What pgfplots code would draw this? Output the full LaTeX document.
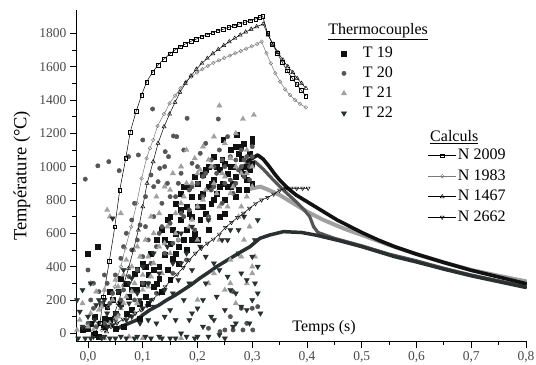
\documentclass[border=0pt]{standalone}
\usepackage{fontspec}
\setmainfont{Liberation Serif}
\usepackage{pgfplots}
\pgfplotsset{compat=1.18}
\definecolor{cTa}{HTML}{111111}
\definecolor{cTb}{HTML}{555555}
\definecolor{cTc}{HTML}{A0A0A0}
\definecolor{cTd}{HTML}{283030}
\definecolor{ctick}{HTML}{4A4A4A}
\definecolor{cgr}{HTML}{7A7A7A}
\begin{document}
\begin{tikzpicture}
\path[use as bounding box] (-76bp,-23.3bp) rectangle (460bp,341.7bp);
\begin{axis}[
  at={(0,0)}, anchor=south west,
  scale only axis, width=451bp, height=331.7bp,
  xmin=-0.0219, xmax=0.8018, ymin=-50.4, ymax=1940,
  axis x line*=bottom, axis y line*=left,
  axis line style={line width=0.9bp, black, -},
  tick align=outside,
  major tick length=6bp, minor tick length=3.5bp,
  tick style={line width=0.8bp, black},
  /pgf/number format/assume math mode=true,
  xtick={0,0.1,0.2,0.3,0.4,0.5,0.6,0.7,0.8},
  xticklabels={{0,0},{0,1},{0,2},{0,3},{0,4},{0,5},{0,6},{0,7},{0,8}},
  ytick={0,200,400,600,800,1000,1200,1400,1600,1800},
  yticklabels={0,200,400,600,800,1000,1200,1400,1600,1800},
  minor x tick num=1, minor y tick num=1,
  ticklabel style={font=\rmfamily\fontsize{13.5bp}{16bp}\selectfont, text=ctick},
  ylabel={Température (°C)},
  every axis y label/.style={at={(axis description cs:-0.1197,0.5)}, rotate=90, anchor=center, font=\rmfamily\fontsize{18.5bp}{22bp}\selectfont},
  clip=true,
  legend image code/.code={\path[draw=none,fill=none] (-8bp,-3bp) (17bp,3bp); \draw[mark repeat=2,mark phase=2,#1] plot coordinates {(-8bp,0bp) (0bp,0bp) (8bp,0bp)};},
  legend style={draw=none, fill=none, font=\rmfamily\fontsize{16bp}{19bp}\selectfont,
    at={(0.576,0.897)}, anchor=north west, inner sep=0pt, row sep=2bp,
    nodes={text height=11bp, text depth=3bp, inner sep=2bp}},
  legend cell align=left,
]
% ---------- Thermocouples scatter ----------
\addplot[only marks, mark=square*, mark size=2.4bp, color=cTa, mark options={draw=none, fill=cTa}] coordinates {
(-0.01,20) (0.0,480) (0.005,60) (0.012,100) (0.018,520) (0.02,-20) (0.028,40) (0.035,160) (0.04,80) (0.045,200)
(0.05,120) (0.055,250) (0.06,180) (0.065,40) (0.07,300) (0.075,220) (0.08,140) (0.085,360) (0.09,260) (0.095,180)
(0.1,420) (0.1,300) (0.105,220) (0.11,350) (0.115,480) (0.12,280) (0.12,380) (0.125,560) (0.13,400) (0.13,330)
(0.135,620) (0.135,250) (0.14,470) (0.145,380) (0.15,540) (0.15,700) (0.15,320) (0.155,450) (0.16,600) (0.16,780)
(0.165,520) (0.165,420) (0.17,680) (0.17,840) (0.175,560) (0.18,760) (0.18,620) (0.18,500) (0.185,880) (0.19,700)
(0.19,820) (0.195,600) (0.2,900) (0.2,760) (0.2,560) (0.205,680) (0.21,840) (0.21,950) (0.215,720) (0.22,880)
(0.22,1000) (0.22,620) (0.225,780) (0.23,920) (0.23,1060) (0.235,840) (0.24,980) (0.24,700) (0.245,900) (0.247,1160)
(0.25,1020) (0.25,800) (0.25,720) (0.255,960) (0.26,1100) (0.26,880) (0.265,1000) (0.27,940) (0.27,1120) (0.27,820)
(0.272,1190) (0.275,860) (0.28,1050) (0.28,980) (0.285,1140) (0.29,1000) (0.29,920) (0.29,860) (0.295,1080) (0.3,1150)
(0.3,1020) (0.3,1170)
(0.0,30) (0.01,-10) (0.025,180) (0.03,90) (0.04,250) (0.05,30) (0.06,330) (0.07,120) (0.08,260) (0.09,380)
(0.095,90) (0.105,400) (0.11,180) (0.125,300) (0.14,560) (0.145,680) (0.155,620) (0.16,480) (0.17,740) (0.175,880)
(0.185,720) (0.19,560) (0.195,940) (0.205,820) (0.21,760) (0.215,980) (0.225,900) (0.23,800) (0.235,1000) (0.24,880)
(0.245,1040) (0.255,880) (0.26,1000) (0.265,900) (0.275,1080) (0.28,1120) (0.285,960) (0.295,980) (0.3,900)
};
\addlegendentry{T 19}
\addplot[only marks, mark=*, mark size=2.2bp, color=cTb, mark options={draw=none, fill=cTb}] coordinates {
(-0.005,925) (0.018,1005) (0.038,1030) (0.0,380) (0.005,200) (0.01,150) (0.02,250) (0.03,60) (0.035,300) (0.04,180)
(0.05,350) (0.055,110) (0.057,976) (0.06,450) (0.065,260) (0.07,600) (0.074,1060) (0.08,500) (0.085,780) (0.09,380)
(0.092,1070) (0.095,650) (0.1,1160) (0.1,300) (0.105,820) (0.11,560) (0.115,950) (0.115,420) (0.118,1346) (0.12,700)
(0.125,240) (0.128,910) (0.131,990) (0.13,600) (0.135,780) (0.14,480) (0.141,1090) (0.145,900) (0.147,1060) (0.15,660)
(0.155,360) (0.156,1184) (0.16,820) (0.162,1180) (0.165,560) (0.17,960) (0.175,700) (0.18,440) (0.181,1290) (0.185,860)
(0.19,1020) (0.195,620) (0.2,900) (0.2,760) (0.205,1080) (0.21,820) (0.215,960) (0.22,700) (0.225,1040) (0.23,880)
(0.235,960) (0.238,1286) (0.24,1100) (0.245,780) (0.25,1000) (0.255,1180) (0.26,920) (0.265,840) (0.27,1040) (0.275,980)
(0.28,1100) (0.285,940) (0.29,1060) (0.295,1000) (0.3,1120) (0.22,30) (0.241,10) (0.25,20) (0.26,100) (0.265,20)
(0.283,20) (0.29,60) (0.301,20) (0.3,150) (0.31,160) (0.28,150) (0.265,250)
(0.0,60) (0.01,300) (0.015,40) (0.025,180) (0.03,350) (0.045,240) (0.05,80) (0.06,200) (0.065,520) (0.075,340)
(0.08,680) (0.085,200) (0.09,560) (0.1,460) (0.105,640) (0.11,300) (0.12,880) (0.125,520) (0.135,640) (0.14,1000)
(0.15,820) (0.155,540) (0.165,900) (0.17,720) (0.175,1100) (0.185,740) (0.19,880) (0.2,1000) (0.21,940) (0.215,1140)
(0.225,860) (0.23,1000) (0.245,1040) (0.25,900) (0.26,1060) (0.27,900) (0.28,1000) (0.285,1040) (0.295,920) (0.3,1060)
};
\addlegendentry{T 20}
\addplot[only marks, mark=triangle*, mark size=3bp, color=cTc, mark options={draw=none, fill=cTc}] coordinates {
(-0.02,20) (-0.01,180) (0.0,40) (0.005,120) (0.01,20) (0.015,250) (0.02,60) (0.025,160) (0.03,-30) (0.035,740)
(0.04,700) (0.045,200) (0.05,90) (0.055,280) (0.06,150) (0.06,720) (0.065,350) (0.07,220) (0.075,-20) (0.08,400)
(0.085,300) (0.09,180) (0.095,460) (0.1,350) (0.1,-30) (0.105,560) (0.11,280) (0.115,700) (0.12,420) (0.125,820)
(0.13,520) (0.135,360) (0.14,880) (0.145,640) (0.15,480) (0.155,960) (0.16,720) (0.165,560) (0.17,1000) (0.175,820)
(0.18,1100) (0.185,640) (0.19,900) (0.195,1050) (0.2,760) (0.2,560) (0.205,980) (0.21,1120) (0.215,860) (0.22,680)
(0.225,1000) (0.23,1180) (0.235,840) (0.24,1366) (0.24,560) (0.245,960) (0.25,1140) (0.255,760) (0.26,1050) (0.26,440)
(0.265,880) (0.27,1200) (0.275,700) (0.28,960) (0.283,1286) (0.285,560) (0.29,820) (0.29,1100) (0.295,640) (0.3,1000)
(0.303,1310) (0.3,400) (0.305,460) (0.17,-30) (0.2,200) (0.22,300) (0.25,260) (0.27,180) (0.29,300) (0.3,360)
(-0.015,80) (0.005,300) (0.02,140) (0.03,260) (0.04,60) (0.05,320) (0.055,100) (0.065,180) (0.07,440) (0.08,250)
(0.085,120) (0.09,520) (0.1,260) (0.11,460) (0.115,340) (0.12,600) (0.13,720) (0.14,540) (0.15,860) (0.16,600)
(0.17,780) (0.18,900) (0.19,680) (0.2,960) (0.21,800) (0.22,1040) (0.23,900) (0.24,760) (0.25,940) (0.26,840)
(0.27,1000) (0.28,760) (0.29,960) (0.3,880) (0.23,360) (0.26,300) (0.28,460)
};
\addlegendentry{T 21}
\addplot[only marks, mark=triangle*, mark size=3bp, color=cTd, mark options={draw=none, fill=cTd, rotate=180}] coordinates {
(-0.02,200) (-0.015,130) (-0.01,40) (-0.005,-30) (0.0,100) (0.005,300) (0.01,-20) (0.015,170) (0.02,60) (0.025,-30)
(0.03,200) (0.035,40) (0.04,-30) (0.045,690) (0.05,120) (0.055,250) (0.06,-20) (0.065,380) (0.07,80) (0.075,180)
(0.08,330) (0.085,-30) (0.09,240) (0.095,60) (0.1,400) (0.1,150) (0.105,-20) (0.11,300) (0.115,200) (0.12,480)
(0.125,60) (0.13,360) (0.135,-30) (0.14,260) (0.145,520) (0.15,140) (0.155,420) (0.16,-30) (0.165,320) (0.17,600)
(0.17,0) (0.175,200) (0.18,480) (0.185,80) (0.19,380) (0.19,640) (0.195,-30) (0.2,150) (0.205,520) (0.21,40)
(0.215,300) (0.22,680) (0.225,100) (0.23,420) (0.235,220) (0.24,-10) (0.245,560) (0.25,140) (0.255,340) (0.26,620)
(0.265,40) (0.27,240) (0.275,480) (0.28,160) (0.285,700) (0.29,320) (0.295,60) (0.3,200) (0.305,560) (0.31,400)
(0.31,680) (0.315,120)
(-0.018,-30) (-0.01,260) (0.005,-30) (0.012,80) (0.02,200) (0.03,-20) (0.035,120) (0.045,50) (0.05,-30) (0.06,160)
(0.07,-30) (0.075,300) (0.08,100) (0.09,-20) (0.095,200) (0.11,80) (0.115,-30) (0.12,160) (0.13,-20) (0.14,100)
(0.15,-30) (0.155,240) (0.16,80) (0.17,420) (0.18,-20) (0.185,300) (0.19,120) (0.2,-20) (0.21,200) (0.215,460)
(0.22,-20) (0.23,80) (0.24,380) (0.25,-30) (0.255,560) (0.26,260) (0.27,60) (0.275,620) (0.28,360) (0.29,140)
(0.3,460) (0.305,300) (0.31,240)
};
\addlegendentry{T 22}
% ---------- Thermocouples dense records ----------
\addplot[forget plot, color=cTc, line width=4bp, line join=round, line cap=round] coordinates {
(0.29,860) (0.3,870) (0.315,880) (0.33,860) (0.35,830) (0.375,780) (0.4,730) (0.43,680) (0.47,625) (0.5,590)
(0.55,530) (0.6,475) (0.65,425) (0.7,380) (0.75,345) (0.8,312)
};
\addplot[forget plot, color=cTb, line width=3.2bp, line join=round, line cap=round] coordinates {
(0.28,1000) (0.295,1020) (0.305,1030) (0.32,985) (0.34,915) (0.36,850) (0.38,790) (0.395,740) (0.405,700) (0.412,640)
(0.42,605) (0.45,570) (0.5,525) (0.55,475) (0.6,435) (0.65,390) (0.7,350) (0.75,315) (0.8,282)
};
\addplot[forget plot, color=cTd, line width=3.5bp, line join=round, line cap=round] coordinates {
(0.05,20) (0.06,40) (0.075,60) (0.089,80) (0.1,110) (0.113,140) (0.13,170) (0.144,200) (0.16,230) (0.174,260)
(0.19,295) (0.204,330) (0.22,365) (0.235,400) (0.25,430) (0.265,460) (0.28,490) (0.296,520) (0.314,570) (0.332,590)
(0.357,610) (0.39,605) (0.418,588) (0.46,555) (0.5,520) (0.53,490) (0.56,460) (0.6,428) (0.65,385) (0.7,345)
(0.75,310) (0.8,275)
};
\addplot[forget plot, color=cTa, line width=3.6bp, line join=round, line cap=round] coordinates {
(0.29,1030) (0.3,1050) (0.31,1070) (0.32,1045) (0.33,1005) (0.34,960) (0.35,920) (0.365,870) (0.38,830) (0.395,800)
(0.41,770) (0.425,740) (0.44,710) (0.455,680) (0.47,655) (0.5,605) (0.53,560) (0.56,520) (0.6,475) (0.65,425)
(0.7,378) (0.75,338) (0.8,298)
};
% ---------- Calculs ----------
\addplot[forget plot, black, line width=0.5bp, mark=square, mark size=1.8bp, mark options={fill=white, draw=black, line width=0.45bp}] coordinates {
(0.013,0) (0.022,62) (0.028,220) (0.039,434) (0.049,640) (0.058,860) (0.069,1050) (0.077,1206) (0.088,1333) (0.098,1430)
(0.107,1508) (0.118,1568) (0.128,1610) (0.139,1646) (0.150,1678) (0.159,1700) (0.168,1720) (0.178,1736) (0.188,1752) (0.198,1766)
(0.208,1780) (0.218,1792) (0.228,1804) (0.237,1816) (0.247,1824) (0.257,1836) (0.267,1846) (0.276,1856) (0.286,1866) (0.296,1876)
(0.306,1886) (0.314,1896) (0.319,1904) (0.328,1800) (0.337,1735) (0.346,1680) (0.355,1625) (0.364,1575) (0.373,1530) (0.381,1495)
(0.389,1460) (0.398,1424)
};
\addplot[forget plot, cgr, line width=0.5bp, mark=o, mark size=1.8bp, mark options={fill=white, draw=cgr, line width=0.45bp}] coordinates {
(0.025,20) (0.037,160) (0.049,280) (0.060,400) (0.068,510) (0.079,640) (0.089,780) (0.098,930) (0.107,1050) (0.113,1110)
(0.119,1160) (0.127,1244) (0.139,1316) (0.149,1380) (0.159,1426) (0.169,1470) (0.179,1510) (0.189,1540) (0.199,1565) (0.209,1585)
(0.219,1605) (0.229,1622) (0.239,1638) (0.249,1652) (0.259,1666) (0.269,1680) (0.279,1694) (0.289,1708) (0.299,1722) (0.309,1736)
(0.317,1750) (0.326,1680) (0.334,1620) (0.342,1560) (0.351,1510) (0.360,1464) (0.369,1430) (0.378,1400) (0.387,1376) (0.398,1356)
};
\addplot[forget plot, black, line width=0.5bp, mark=triangle, mark size=2.3bp, mark options={fill=white, draw=black, line width=0.45bp}] coordinates {
(0.034,10) (0.045,90) (0.055,180) (0.065,290) (0.074,390) (0.083,500) (0.092,620) (0.100,760) (0.108,900) (0.119,1030)
(0.128,1140) (0.139,1240) (0.149,1316) (0.159,1386) (0.168,1446) (0.178,1500) (0.188,1545) (0.198,1585) (0.208,1620) (0.218,1650)
(0.228,1678) (0.238,1703) (0.248,1727) (0.258,1750) (0.268,1770) (0.278,1790) (0.288,1808) (0.298,1825) (0.308,1840) (0.320,1856)
(0.329,1790) (0.338,1735) (0.347,1685) (0.356,1640) (0.365,1600) (0.374,1565) (0.382,1530) (0.390,1500) (0.398,1470)
};
\addplot[forget plot, black, line width=0.5bp, mark=triangle, mark size=2.3bp, mark options={fill=white, draw=black, line width=0.45bp, rotate=180}] coordinates {
(0.031,20) (0.042,40) (0.053,60) (0.064,85) (0.075,105) (0.086,120) (0.097,140) (0.108,165) (0.119,205) (0.130,240)
(0.141,280) (0.152,320) (0.163,355) (0.174,395) (0.185,440) (0.196,480) (0.207,510) (0.218,540) (0.229,565) (0.240,595)
(0.251,635) (0.262,665) (0.273,695) (0.284,720) (0.295,750) (0.306,778) (0.317,800) (0.328,815) (0.339,835) (0.350,858)
(0.361,870) (0.371,870) (0.381,870) (0.392,870) (0.402,870)
};
\node[anchor=west, font=\rmfamily\fontsize{16bp}{19bp}\selectfont, inner sep=0pt] at (axis cs:0.373,32) {Temps (s)};
\node[anchor=west, font=\rmfamily\fontsize{16bp}{19bp}\selectfont, inner sep=0pt] at (rel axis cs:0.559,0.934) {\underline{Thermocouples}};
\node[anchor=west, font=\rmfamily\fontsize{16bp}{19bp}\selectfont, inner sep=0pt] at (rel axis cs:0.785,0.617) {\underline{Calculs}};
\end{axis}
\begin{axis}[
  at={(0,0)}, anchor=south west,
  scale only axis, width=451bp, height=331.7bp,
  xmin=0, xmax=1, ymin=0, ymax=1, hide axis,
  legend image code/.code={\draw[mark repeat=2,mark phase=2,#1] plot coordinates {(0bp,0bp) (14bp,0bp) (28bp,0bp)};},
  legend style={draw=none, fill=none, font=\rmfamily\fontsize{16bp}{19bp}\selectfont,
    at={(0.78,0.587)}, anchor=north west, inner sep=0pt, row sep=3.5bp,
    nodes={text height=11bp, text depth=3bp, inner sep=1.5bp}},
  legend cell align=left,
]
\addlegendimage{black, line width=0.5bp, mark=square, mark size=1.8bp, mark options={fill=white, draw=black, line width=0.45bp}}
\addlegendentry{N 2009}
\addlegendimage{cgr, line width=0.5bp, mark=o, mark size=1.8bp, mark options={fill=white, draw=cgr, line width=0.45bp}}
\addlegendentry{N 1983}
\addlegendimage{black, line width=0.5bp, mark=triangle, mark size=2.3bp, mark options={fill=white, draw=black, line width=0.45bp}}
\addlegendentry{N 1467}
\addlegendimage{black, line width=0.5bp, mark=triangle, mark size=2.3bp, mark options={fill=white, draw=black, line width=0.45bp, rotate=180}}
\addlegendentry{N 2662}
\end{axis}
\end{tikzpicture}
\end{document}
